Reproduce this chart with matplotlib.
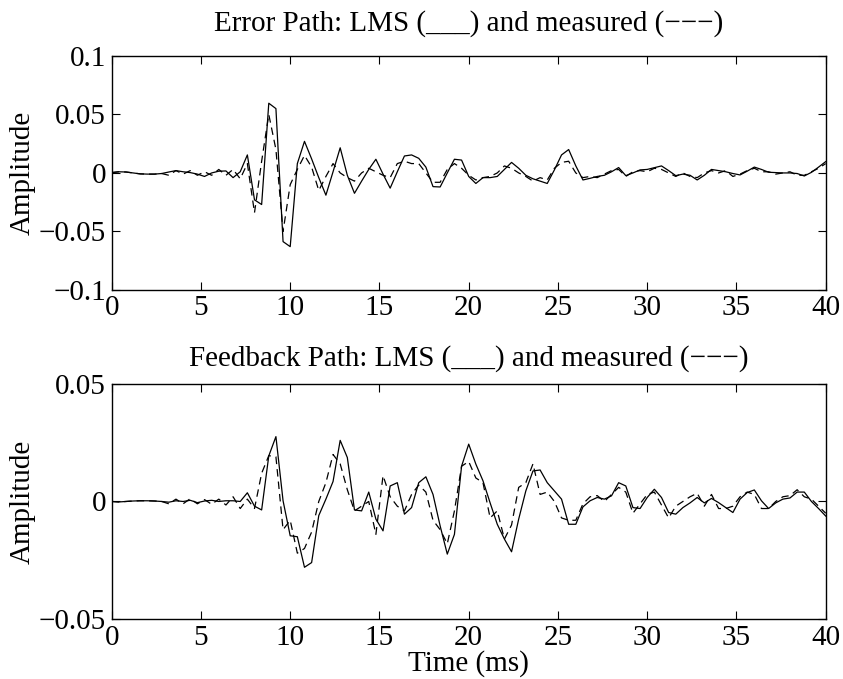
import numpy as np
import matplotlib.pyplot as plt

# time axis: 0.4 ms sampling, 0..40 ms
t_ms = np.arange(101) * 0.4

# Error path, LMS estimate (solid)
err_lms = [
    0.0003, 0.001, 0.0008, 0.0, -0.0008, -0.001, -0.001, -0.0005, 0.0008, 0.002,
    0.001, 0.0003, -0.001, -0.003, 0.0, 0.0015, 0.0017, -0.004, 0.001, 0.0154,
    -0.023, -0.027, 0.0596, 0.055, -0.0587, -0.063, 0.008, 0.027, 0.012, -0.004,
    -0.019, 0.001, 0.0215, -0.002, -0.0174, -0.007, 0.003, 0.0117, -0.001, -0.013,
    0.001, 0.0145, 0.0154, 0.0125, 0.005, -0.0117, -0.012, 0.0, 0.0117, 0.011,
    -0.003, -0.009, -0.004, -0.004, -0.003, 0.003, 0.009, 0.004, -0.002, -0.005,
    -0.007, -0.009, 0.0026, 0.0154, 0.020, 0.006, -0.006, -0.0046, -0.003, -0.002,
    0.001, 0.0046, -0.0023, 0.0, 0.0026, 0.003, 0.0045, 0.006, 0.002, -0.0023,
    -0.001, -0.002, -0.006, -0.002, 0.003, 0.002, 0.001, -0.0005, -0.0017, 0.0015,
    0.005, 0.003, 0.0006, 0.0003, 0.0, 0.0, -0.0005, -0.0026, 0.0005, 0.005,
    0.0097,
]

# Error path, measured (dashed)
err_meas = [
    0.0003, 0.001, 0.0008, 0.0, -0.0008, -0.001, -0.001, -0.0005, -0.002, 0.002,
    -0.001, 0.002, -0.002, 0.001, -0.002, 0.003, -0.002, 0.003, -0.005, 0.008,
    -0.034, 0.01, 0.05, 0.02, -0.05, -0.01, 0.003, 0.015, 0.005, -0.015,
    -0.003, 0.008, 0.0, -0.004, -0.007, 0.0, 0.004, 0.001, -0.002, -0.004,
    0.008, 0.01, 0.008, 0.008, 0.0, -0.008, -0.008, 0.003, 0.008, 0.004,
    -0.002, -0.006, -0.004, -0.003, 0.0, 0.006, 0.004, 0.0, -0.003, -0.007,
    -0.004, -0.006, 0.004, 0.009, 0.01, 0.0, -0.004, -0.003, -0.004, -0.001,
    0.002, 0.003, -0.003, 0.001, 0.002, 0.001, 0.004, 0.003, 0.0, -0.003,
    0.0, -0.003, -0.004, 0.0, 0.002, 0.0, 0.002, -0.003, -0.001, 0.002,
    0.004, 0.001, 0.001, -0.001, 0.0, 0.001, -0.002, -0.002, 0.001, 0.004,
    0.008,
]

# Feedback path, LMS estimate (solid)
fb_lms = [
    0.0, -0.0002, 0.0, 0.0002, 0.0003, 0.0003, 0.0002, 0.0, -0.0003, 0.0003,
    0.0, 0.0005, -0.0005, 0.0002, 0.0005, 0.0, 0.0003, 0.0003, 0.0, 0.0037,
    -0.002, -0.0036, 0.0194, 0.0276, 0.0003, -0.0146, -0.015, -0.028, -0.026, -0.006,
    0.001, 0.0085, 0.026, 0.0187, -0.0036, -0.004, 0.004, -0.0075, -0.0125, 0.0066,
    0.008, -0.0054, -0.0026, 0.008, 0.0105, 0.003, -0.0104, -0.0224, -0.014, 0.015,
    0.0244, 0.0159, 0.0088, -0.0006, -0.0097, -0.016, -0.0214, -0.0075, 0.0045, 0.013,
    0.0134, 0.008, 0.0045, 0.001, -0.0097, -0.0097, -0.0023, 0.0003, 0.0017, 0.001,
    0.0024, 0.008, 0.0066, -0.0026, -0.003, 0.0017, 0.0052, 0.0017, -0.0047, -0.0054,
    -0.0026, -0.0006, 0.0017, -0.0006, 0.0013, -0.0005, -0.0026, -0.0047, 0.001, 0.0038,
    0.0049, 0.0003, -0.003, -0.0006, 0.001, 0.0015, 0.004, 0.004, 0.0, -0.003,
    -0.0062,
]

# Feedback path, measured (dashed)
fb_meas = [
    0.0, -0.0002, 0.0, 0.0002, 0.0003, 0.0003, 0.0002, 0.0, -0.001, 0.001,
    -0.001, 0.0012, -0.001, 0.0008, -0.0012, 0.001, -0.0015, 0.002, -0.003, 0.001,
    -0.003, 0.012, 0.0195, 0.019, -0.012, -0.008, -0.022, -0.02, -0.013, 0.0,
    0.008, 0.02, 0.016, 0.005, -0.004, -0.002, 0.0, -0.014, 0.011, 0.002,
    -0.002, -0.004, 0.003, 0.007, 0.004, -0.008, -0.012, -0.018, -0.004, 0.015,
    0.017, 0.01, 0.008, -0.007, -0.004, -0.016, -0.01, 0.006, 0.008, 0.016,
    0.003, 0.004, 0.0, -0.007, -0.008, -0.008, -0.001, 0.002, 0.0025, 0.0,
    0.003, 0.006, 0.004, -0.005, -0.001, 0.003, 0.004, -0.0015, -0.007, -0.002,
    0.0, 0.002, 0.0035, -0.002, 0.003, -0.003, -0.003, -0.002, 0.002, 0.004,
    0.003, -0.003, -0.003, 0.0, 0.002, 0.0025, 0.005, 0.002, 0.001, -0.002,
    -0.005,
]

x_ticks = [0, 5, 10, 15, 20, 25, 30, 35, 40]
err_yticks = [-0.1, -0.05, 0, 0.05, 0.1]
err_ylabels = ['\u22120.1', '\u22120.05', '0', '0.05', '0.1']
fb_yticks = [-0.05, 0, 0.05]
fb_ylabels = ['\u22120.05', '0', '0.05']

plt.rcParams.update({
    'font.family': 'Liberation Serif',
    'font.size': 21,
    'axes.linewidth': 1.0,
    'xtick.direction': 'in',
    'ytick.direction': 'in',
    'xtick.top': True,
    'ytick.right': True,
    'xtick.major.size': 6,
    'ytick.major.size': 6,
    'xtick.major.pad': 4,
    'ytick.major.pad': 4,
})

fig = plt.figure(figsize=(8.43, 6.79), dpi=100)
ax1 = fig.add_axes([0.1325, 0.573, 0.847, 0.3446])
ax2 = fig.add_axes([0.1325, 0.0884, 0.847, 0.3461])

def draw(ax, lms, meas, yticks, ylabels, title, pad):
    ax.plot(t_ms, lms, 'k-', lw=0.9)
    ax.plot(t_ms, meas, 'k--', lw=0.9, dashes=(6, 4))
    ax.set_xlim(0, 40)
    ax.set_ylim(yticks[0], yticks[-1])
    ax.set_xticks(x_ticks)
    ax.set_yticks(yticks)
    ax.set_yticklabels(ylabels)
    ax.set_ylabel('Amplitude', labelpad=2)
    ax.set_title(title, fontsize=21, pad=pad)

draw(ax1, err_lms, err_meas, err_yticks, err_ylabels,
     'Error Path: LMS (___) and measured (\u2212\u2212\u2212)', 18)
draw(ax2, fb_lms, fb_meas, fb_yticks, fb_ylabels,
     'Feedback Path: LMS (___) and measured (\u2212\u2212\u2212)', 13)
ax2.set_xlabel('Time (ms)', labelpad=0)

fig.savefig('out.png', dpi=100)
